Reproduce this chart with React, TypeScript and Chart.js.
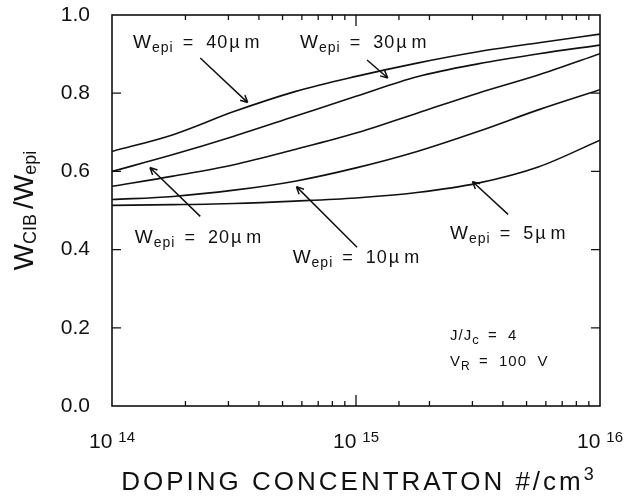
import React, { useEffect, useRef } from "react";
import { Chart, registerables } from "chart.js";

Chart.register(...registerables);

// ---- data ----
const dopingX = [1e14, 1.78e14, 3.16e14, 5.62e14, 1e15, 1.78e15, 3.16e15, 5.62e15, 1e16];
const w40 = [0.651, 0.694, 0.753, 0.804, 0.843, 0.877, 0.906, 0.929, 0.951];
const w30 = [0.6, 0.643, 0.69, 0.741, 0.792, 0.842, 0.875, 0.901, 0.923];
const w20 = [0.562, 0.588, 0.617, 0.656, 0.698, 0.749, 0.8, 0.847, 0.901];
const w10 = [0.528, 0.536, 0.552, 0.575, 0.609, 0.651, 0.702, 0.758, 0.809];
const w5 = [0.513, 0.515, 0.518, 0.524, 0.532, 0.546, 0.57, 0.612, 0.68];
const seriesNames = ["40", "30", "20", "10", "5"];
const yTickStep = 0.2;
const xDecadeExponents = ["14", "15", "16"];
const xDecadeValues = [1e14, 1e15, 1e16];

// annotation label anchors (data units: x, y) and arrows
const labelX = [1.22e14, 5.9e14, 1.24e14, 5.5e14, 2.43e15];
const labelY = [0.916, 0.916, 0.418, 0.367, 0.426];
const arrowFromX = [2.3e14, 1.11e15, 2.3e14, 1.01e15, 4.2e15];
const arrowFromY = [0.89, 0.885, 0.485, 0.406, 0.49];
const arrowToX = [3.6e14, 1.35e15, 1.43e14, 5.7e14, 3.0e15];
const arrowToY = [0.776, 0.839, 0.61, 0.561, 0.574];
const noteX = 2.43e15;
const noteY = [0.168, 0.102];

const FONT = "'Liberation Sans', Arial, Helvetica, sans-serif";
const INK = "#111";

type Part = { t: string; size: number; dy?: number; gap?: number };

function partsWidth(ctx: CanvasRenderingContext2D, parts: Part[]) {
  let w = 0;
  for (const p of parts) {
    ctx.font = `${p.size}px ${FONT}`;
    w += ctx.measureText(p.t).width + (p.gap || 0);
  }
  return w;
}

function drawParts(ctx: CanvasRenderingContext2D, parts: Part[], x: number, y: number) {
  let cx = x;
  for (const p of parts) {
    ctx.font = `${p.size}px ${FONT}`;
    ctx.fillText(p.t, cx, y + (p.dy || 0));
    cx += ctx.measureText(p.t).width + (p.gap || 0);
  }
}

const decorPlugin = {
  id: "decor",
  afterDraw(chart: any) {
    const ctx: CanvasRenderingContext2D = chart.ctx;
    const { left, right, top, bottom } = chart.chartArea;
    const xs = chart.scales.x;
    const ys = chart.scales.y;
    ctx.save();
    ctx.strokeStyle = INK;
    ctx.fillStyle = INK;
    ctx.lineWidth = 1.6;
    ctx.strokeRect(left, top, right - left, bottom - top);

    // x minor/major ticks (inside, top & bottom)
    ctx.lineWidth = 1.3;
    for (const t of xs.ticks) {
      const px = xs.getPixelForValue(t.value);
      if (px <= left + 1 || px >= right - 1) continue;
      const lg = Math.log10(t.value);
      const major = Math.abs(lg - Math.round(lg)) < 1e-6;
      const len = major ? 11 : 5;
      ctx.beginPath();
      ctx.moveTo(px, bottom);
      ctx.lineTo(px, bottom - len);
      ctx.moveTo(px, top);
      ctx.lineTo(px, top + len);
      ctx.stroke();
    }
    // y ticks (inside, left & right)
    for (const t of ys.ticks) {
      const py = ys.getPixelForValue(t.value);
      if (py <= top + 1 || py >= bottom - 1) continue;
      ctx.beginPath();
      ctx.moveTo(left, py);
      ctx.lineTo(left + 9, py);
      ctx.moveTo(right, py);
      ctx.lineTo(right - 9, py);
      ctx.stroke();
    }

    // x tick labels 10^n
    ctx.textBaseline = "alphabetic";
    ctx.textAlign = "left";
    xDecadeValues.forEach((v, i) => {
      const px = xs.getPixelForValue(v);
      const parts: Part[] = [
        { t: "10", size: 21, gap: 6 },
        { t: xDecadeExponents[i], size: 15, dy: -6 },
      ];
      const w = partsWidth(ctx, parts);
      drawParts(ctx, parts, px - w / 2, 448);
    });

    // x axis title
    (ctx as any).letterSpacing = "3px";
    const tParts: Part[] = [
      { t: "DOPING CONCENTRATON #/cm", size: 26 },
      { t: "3", size: 18, dy: -10 },
    ];
    const tw = partsWidth(ctx, tParts);
    drawParts(ctx, tParts, (left + right) / 2 - tw / 2 + 3, 490);
    (ctx as any).letterSpacing = "0px";

    // y axis title (rotated)
    const yParts: Part[] = [
      { t: "W", size: 28 },
      { t: "CIB", size: 18, dy: 3, gap: 5 },
      { t: "/W", size: 28 },
      { t: "epi", size: 18, dy: 3 },
    ];
    const yw = partsWidth(ctx, yParts);
    ctx.save();
    ctx.translate(33, (top + bottom) / 2);
    ctx.rotate(-Math.PI / 2);
    drawParts(ctx, yParts, -yw / 2, 0);
    ctx.restore();

    // series labels
    (ctx as any).letterSpacing = "1px";
    seriesNames.forEach((n, i) => {
      const px = xs.getPixelForValue(labelX[i]);
      const py = ys.getPixelForValue(labelY[i]);
      drawParts(
        ctx,
        [
          { t: "W", size: 19 },
          { t: "epi", size: 14, dy: 4, gap: 3 },
          { t: " =  " + n, size: 18, gap: 1 },
          { t: "µ", size: 18, gap: 4 },
          { t: "m", size: 18 },
        ],
        px,
        py
      );
    });

    // arrows
    ctx.lineWidth = 1.5;
    seriesNames.forEach((_, i) => {
      const x1 = xs.getPixelForValue(arrowFromX[i]);
      const y1 = ys.getPixelForValue(arrowFromY[i]);
      const x2 = xs.getPixelForValue(arrowToX[i]);
      const y2 = ys.getPixelForValue(arrowToY[i]);
      ctx.beginPath();
      ctx.moveTo(x1, y1);
      ctx.lineTo(x2, y2);
      const a = Math.atan2(y2 - y1, x2 - x1);
      const L = 8;
      ctx.moveTo(x2, y2);
      ctx.lineTo(x2 - L * Math.cos(a - 0.45), y2 - L * Math.sin(a - 0.45));
      ctx.moveTo(x2, y2);
      ctx.lineTo(x2 - L * Math.cos(a + 0.45), y2 - L * Math.sin(a + 0.45));
      ctx.stroke();
    });

    // condition notes
    const nx = xs.getPixelForValue(noteX);
    drawParts(
      ctx,
      [
        { t: "J/J", size: 15 },
        { t: "c", size: 13, dy: 4, gap: 3 },
        { t: " =  4", size: 15 },
      ],
      nx,
      ys.getPixelForValue(noteY[0])
    );
    drawParts(
      ctx,
      [
        { t: "V", size: 15 },
        { t: "R", size: 12, dy: 4, gap: 3 },
        { t: " =  100  V", size: 15 },
      ],
      nx,
      ys.getPixelForValue(noteY[1])
    );
    (ctx as any).letterSpacing = "0px";
    ctx.restore();
  },
};

export default function App() {
  const ref = useRef<HTMLCanvasElement | null>(null);
  useEffect(() => {
    if (!ref.current) return;
    const series = [w40, w30, w20, w10, w5];
    const chart = new Chart(ref.current, {
      type: "line",
      data: {
        datasets: series.map((vals, i) => ({
          label: seriesNames[i],
          data: dopingX.map((x, j) => ({ x, y: vals[j] })),
          borderColor: INK,
          borderWidth: 1.6,
          pointRadius: 0,
          cubicInterpolationMode: "monotone" as const,
          fill: false,
        })),
      },
      options: {
        animation: false,
        responsive: false,
        devicePixelRatio: 1,
        layout: { padding: { top: 15, right: 28, left: 0, bottom: 0 } },
        plugins: { legend: { display: false }, tooltip: { enabled: false } },
        scales: {
          x: {
            type: "logarithmic",
            min: 1e14,
            max: 1e16,
            ticks: { display: false },
            grid: { display: false, drawTicks: false },
            border: { display: false },
            afterFit: (s: any) => {
              s.height = 93;
              s.paddingLeft = 0;
              s.paddingRight = 0;
              s.paddingTop = 0;
              s.paddingBottom = 0;
            },
          },
          y: {
            min: 0,
            max: 1,
            ticks: {
              stepSize: yTickStep,
              callback: (v: any) => Number(v).toFixed(1),
              font: { family: FONT, size: 21 },
              color: INK,
              padding: 22,
            },
            grid: { display: false, drawTicks: false },
            border: { display: false },
            afterFit: (s: any) => {
              s.width = 112;
              s.paddingTop = 0;
              s.paddingBottom = 0;
              s.paddingLeft = 0;
              s.paddingRight = 0;
            },
          },
        },
      },
      plugins: [decorPlugin],
    });
    return () => chart.destroy();
  }, []);
  return (
    <div style={{ position: "fixed", left: 0, top: 0, width: 628, height: 499, background: "#fff" }}>
      <canvas ref={ref} width={628} height={499} style={{ display: "block" }} />
    </div>
  );
}
